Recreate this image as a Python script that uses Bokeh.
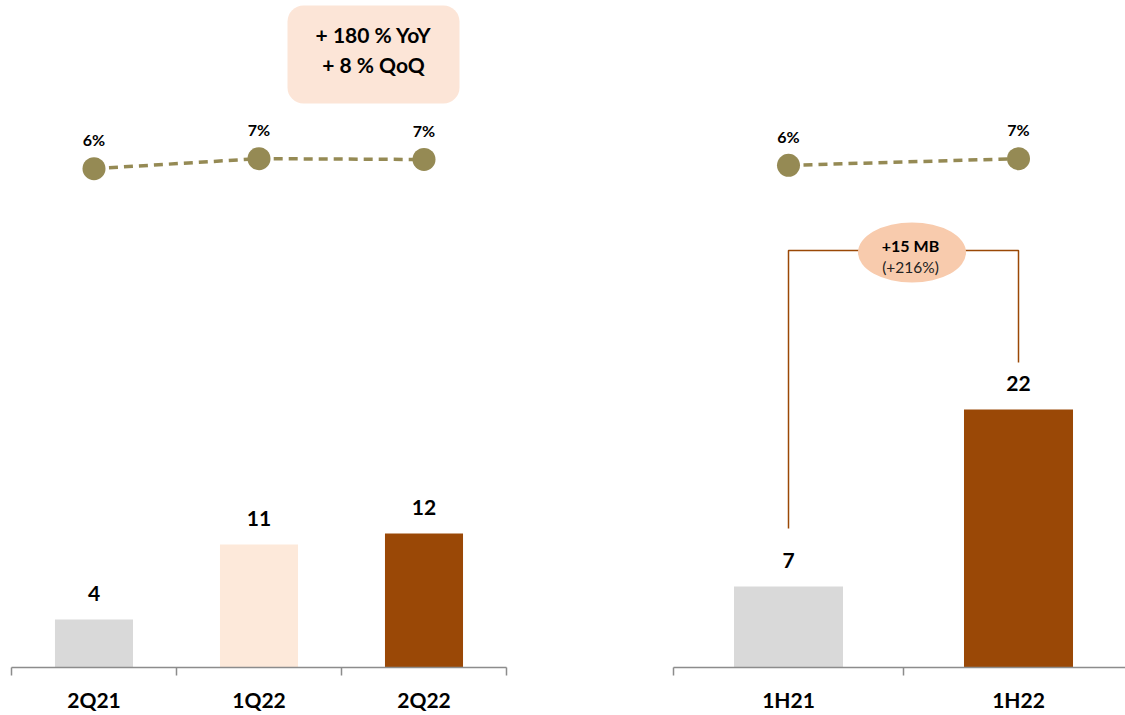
from bokeh.plotting import figure
from bokeh.models import Range1d, FixedTicker, BoxAnnotation
from bokeh.layouts import row
from bokeh.core.properties import value
from bokeh.embed import file_html
from bokeh.resources import INLINE

# ---- data ----
q_labels = ["2Q21", "1Q22", "2Q22"]
q_values = [4.3, 11.0, 12.0]
q_value_labels = ["4", "11", "12"]
q_pct = [6.3, 6.9, 6.85]
q_pct_labels = ["6%", "7%", "7%"]

h_labels = ["1H21", "1H22"]
h_values = [6.9, 22.0]
h_value_labels = ["7", "22"]
h_pct = [6.5, 6.9]
h_pct_labels = ["6%", "7%"]

yoy_lines = ["+ 180 % YoY", "+ 8 % QoQ"]
delta_lines = ["+15 MB", "(+216%)"]

GRAY = "#D9D9D9"
PEACH = "#FDE9DA"
BROWN = "#9A4806"
OLIVE = "#958A54"
AXIS = "#8C8C8C"
FONT = "Lato"

FRAME_H = 667
YL_END = 59.7
YR_END = 56.88
PCT_RANGE = (-23.6, 16.38)


def style(p):
    p.xgrid.grid_line_color = None
    p.ygrid.grid_line_color = None
    p.outline_line_color = None
    ax = p.xaxis[0]
    ax.axis_line_color = AXIS
    ax.axis_line_width = 1.5
    ax.major_tick_line_color = None
    ax.major_tick_out = 0
    ax.major_tick_in = 0
    ax.minor_tick_line_color = AXIS
    ax.minor_tick_line_width = 1.5
    ax.minor_tick_out = 8
    ax.minor_tick_in = 0
    ax.major_label_text_font = FONT
    ax.major_label_text_font_style = "bold"
    ax.major_label_text_font_size = "21px"
    ax.major_label_text_color = "#000000"
    ax.major_label_standoff = 11


def common(p, xs, vals, vlabels, colors, pct, pct_labels, bw):
    p.vbar(x=xs, top=vals, width=bw, color=colors, line_color=None)
    p.text(x=xs, y=vals, text=vlabels, text_align="center", text_baseline="middle",
           y_offset=-26, text_font=value(FONT), text_font_style="bold",
           text_font_size="21px", text_color="#000000")
    p.line(x=xs, y=pct, y_range_name="pct", line_color=OLIVE, line_width=3.5,
           line_dash="9 6")
    p.scatter(x=xs, y=pct, y_range_name="pct", size=23, fill_color=OLIVE,
              line_color=None)
    p.text(x=xs, y=pct, y_range_name="pct", text=pct_labels, text_align="center",
           text_baseline="middle", y_offset=-29, text_font=value(FONT),
           text_font_style="bold", text_font_size="16px", text_color="#000000")


# ---- left panel ----
pL = figure(width=600, height=715, x_range=Range1d(-0.5, 2.5), y_range=Range1d(0, YL_END),
            output_backend="svg", toolbar_location=None, y_axis_location=None,
            min_border_left=11, min_border_right=94, min_border_top=0, min_border_bottom=48)
pL.extra_y_ranges = {"pct": Range1d(*PCT_RANGE)}
xL = list(range(len(q_labels)))
common(pL, xL, q_values, q_value_labels, [GRAY, PEACH, BROWN], q_pct, q_pct_labels, 0.473)
style(pL)
pL.xaxis.ticker = FixedTicker(ticks=xL, minor_ticks=[i - 0.5 for i in range(len(q_labels) + 1)])
pL.xaxis.major_label_overrides = {i: lab for i, lab in enumerate(q_labels)}


def lx(px):
    return (px - 11) / 165.0 - 0.5


def ly(py):
    return (FRAME_H - py) * YL_END / FRAME_H


pL.add_layout(BoxAnnotation(left=lx(287), right=lx(459), bottom=ly(103), top=ly(5),
                            fill_color="#FCE5D7", fill_alpha=1.0, line_color=None,
                            border_radius=16, level="underlay"))
pL.text(x=[lx(373), lx(373)], y=[ly(34), ly(64)], text=yoy_lines, text_align="center",
        text_baseline="middle", text_font=value(FONT), text_font_style="bold",
        text_font_size="21px", text_color="#000000")

# ---- right panel ----
R_W = 452
pR = figure(width=525, height=715, x_range=Range1d(-0.5, -0.5 + R_W / 230.0),
            y_range=Range1d(0, YR_END), output_backend="svg", toolbar_location=None,
            y_axis_location=None, min_border_left=73, min_border_right=0,
            min_border_top=0, min_border_bottom=48)
pR.extra_y_ranges = {"pct": Range1d(*PCT_RANGE)}
xR = list(range(len(h_labels)))


def ry(py):
    return (FRAME_H - py) * YR_END / FRAME_H


def rx(px):
    return (px - 673) / 230.0 - 0.5


# bracket
pR.line(x=[xR[0], xR[0], xR[1], xR[1]],
        y=[h_values[0] + 4.95, ry(250), ry(250), h_values[1] + 4.0],
        line_color=BROWN, line_width=1.5)
pR.ellipse(x=[rx(911.5)], y=[ry(252)], width=108, height=60, width_units="screen",
           height_units="screen", fill_color="#F8CBAD", line_color=None)
pR.text(x=[rx(910)], y=[ry(245)], text=[delta_lines[0]], text_align="center",
        text_baseline="middle", text_font=value(FONT), text_font_style="bold",
        text_font_size="16px", text_color="#000000")
pR.text(x=[rx(910)], y=[ry(266)], text=[delta_lines[1]], text_align="center",
        text_baseline="middle", text_font=value(FONT),
        text_font_size="15.5px", text_color="#222222")

common(pR, xR, h_values, h_value_labels, [GRAY, BROWN], h_pct, h_pct_labels, 0.474)
style(pR)
pR.xaxis.ticker = FixedTicker(ticks=xR, minor_ticks=[i - 0.5 for i in range(len(h_labels) + 1)])
pR.xaxis.major_label_overrides = {i: lab for i, lab in enumerate(h_labels)}

layout = row(pL, pR, spacing=0)
open("out.html", "w").write(file_html(layout, INLINE))
